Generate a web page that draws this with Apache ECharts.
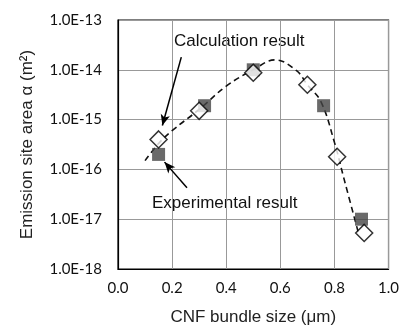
<!DOCTYPE html>
<html><head><meta charset="utf-8">
<script src="https://cdn.jsdelivr.net/npm/echarts@6/dist/echarts.min.js"></script>
<style>html,body{margin:0;padding:0;background:#fff}#c{width:402px;height:331px}</style>
</head><body><div id="c"></div>
<script>
const expX = [0.15, 0.32, 0.50, 0.76, 0.90];
const expY = [2.0e-16, 1.9e-15, 1.0e-14, 1.9e-15, 1.0e-17];
const calcX = [0.15, 0.30, 0.50, 0.70, 0.81, 0.91];
const calcY = [4.0e-16, 1.5e-15, 8.7e-15, 5.0e-15, 1.8e-16, 5.3e-18];
const curveX = [0.10, 0.15, 0.20, 0.30, 0.40, 0.50, 0.58, 0.66, 0.70, 0.75, 0.80, 0.836, 0.89];
const curveY = [1.5e-16, 3.3e-16, 6.0e-16, 1.6e-15, 4.7e-15, 1.0e-14, 1.58e-14, 9.6e-15, 5.0e-15, 2.3e-15, 3.5e-16, 6.3e-17, 5.0e-18];
const yTickLabels = ['1.0E-18','1.0E-17','1.0E-16','1.0E-15','1.0E-14','1.0E-13'];
const xTickLabels = ['0.0','0.2','0.4','0.6','0.8','1.0'];
const calcArrow = [[0.234, 1.8e-14], [0.164, 7.6e-16]];
const expArrow = [[0.255, 4.3e-17], [0.172, 1.4e-16]];

const zip = (a, b) => a.map((v, i) => [v, b[i]]);
const font = 'Liberation Sans, Arial, sans-serif';
const tickFont = 'Lato, Carlito, sans-serif';
const chart = echarts.init(document.getElementById('c'));
chart.setOption({
  animation: false,
  grid: {left: 118, right: 10, top: 20, bottom: 56, show: true, borderColor: '#000', borderWidth: 1.2},
  xAxis: {
    type: 'value', min: 0, max: 1, interval: 0.2,
    name: 'CNF bundle size (μm)', nameLocation: 'middle', nameGap: 40,
    nameTextStyle: {fontFamily: font, fontSize: 17, color: '#222'},
    axisLine: {show: true, lineStyle: {color: '#000', width: 1.2}},
    axisTick: {show: false},
    axisLabel: {fontFamily: tickFont, fontSize: 15, color: '#111', margin: 12,
      formatter: v => xTickLabels[Math.round(v / 0.2)]},
    splitLine: {show: true, lineStyle: {color: '#999', width: 1}}
  },
  yAxis: {
    type: 'log', logBase: 10, min: 1e-18, max: 1e-13,
    name: 'Emission site area α (m²)', nameLocation: 'middle', nameGap: 82,
    nameTextStyle: {fontFamily: font, fontSize: 17, color: '#222'},
    axisLine: {show: true, lineStyle: {color: '#000', width: 1.2}},
    axisTick: {show: false},
    axisLabel: {fontFamily: tickFont, fontSize: 15, color: '#111', margin: 16,
      formatter: v => yTickLabels[Math.round(Math.log10(v)) + 18]},
    splitLine: {show: true, lineStyle: {color: '#999', width: 1}}
  },
  series: [
    {type: 'line', data: zip(curveX, curveY), smooth: 0.4, symbol: 'none',
      lineStyle: {color: '#111', width: 1.6, type: [6, 4]}, z: 1,
      markLine: {silent: true, symbol: ['none', 'arrow'], symbolSize: 10,
        lineStyle: {color: '#000', width: 1.5, type: 'solid'}, label: {show: false},
        data: [
          [{coord: calcArrow[0], symbol: 'none'}, {coord: calcArrow[1], symbol: 'arrow', symbolSize: [7, 11]}],
          [{coord: expArrow[0], symbol: 'none'}, {coord: expArrow[1], symbol: 'arrow', symbolSize: [7, 11]}]
        ]}},
    {type: 'scatter', data: zip(expX, expY), symbol: 'rect', symbolSize: 13,
      itemStyle: {color: '#454545'}, z: 2},
    {type: 'scatter', data: zip(calcX, calcY), symbol: 'diamond', symbolSize: [17, 17],
      itemStyle: {color: '#fff', borderColor: '#000', borderWidth: 1.5}, z: 3}
  ],
  graphic: [
    {type: 'text', left: 174, top: 33, style: {text: 'Calculation result', font: '17px ' + font, fill: '#111'}},
    {type: 'text', left: 152, top: 195, style: {text: 'Experimental result', font: '17px ' + font, fill: '#111'}}
  ]
});
</script></body></html>
